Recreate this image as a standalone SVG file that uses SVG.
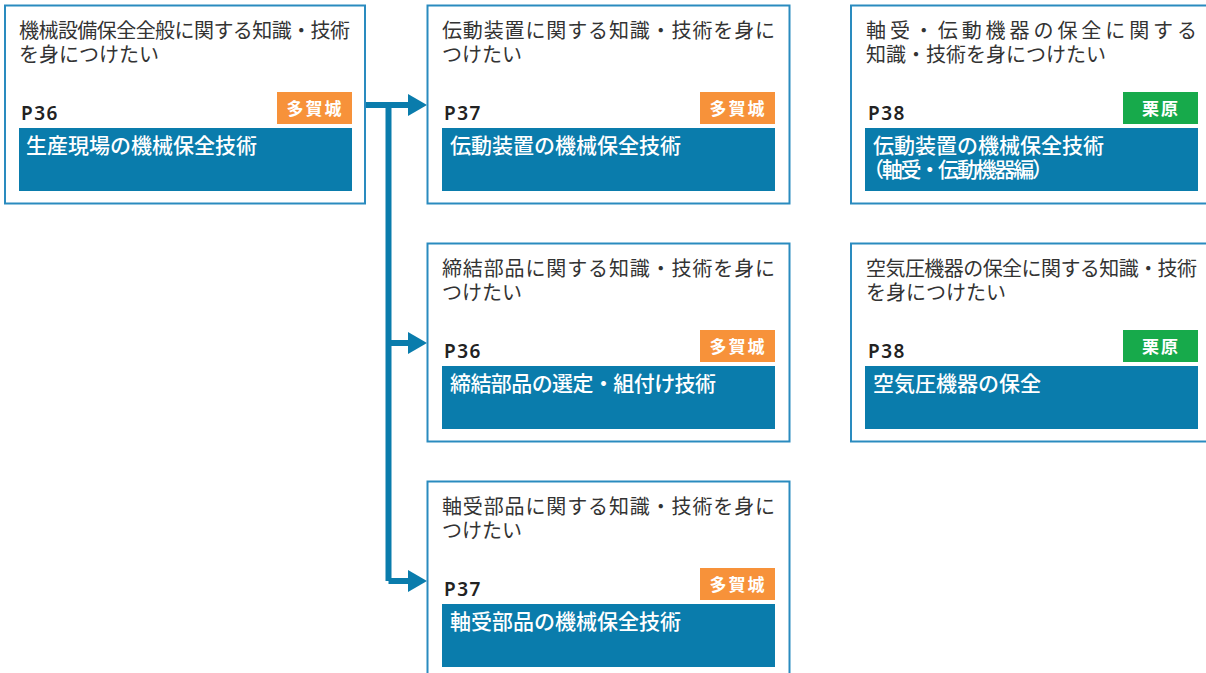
<svg xmlns="http://www.w3.org/2000/svg" width="1206" height="673" viewBox="0 0 1206 673">
<defs>
<style>
.box{fill:#fff;stroke:#2a8bbf;stroke-width:2}
.bar{fill:#0a7cac}
.og{fill:#f7923a}
.gr{fill:#17aa4b}
.t{font-family:"Noto Sans CJK JP","Noto Sans",sans-serif;font-size:20px;fill:#333}
.p{font-family:"Noto Sans","Noto Sans CJK JP",sans-serif;font-size:19px;font-weight:600;fill:#222;letter-spacing:1.5px}
.bd{font-family:"Noto Sans CJK JP",sans-serif;font-size:17px;font-weight:700;fill:#fff;text-anchor:middle;letter-spacing:2px}
.w{font-family:"Noto Sans CJK JP",sans-serif;font-size:21px;font-weight:500;fill:#fff}
.ln{fill:none;stroke:#0a7cac;stroke-width:6}
.ah{fill:#0a7cac}
</style>
</defs>
<g id="connectors">
<path class="ln" d="M366 105 H410 M388.5 102 V581 M388.5 343 H410 M388.5 581 H410"/>
<polygon class="ah" points="408,94 427,105 408,116"/>
<polygon class="ah" points="408,332 427,343 408,354"/>
<polygon class="ah" points="408,570 427,581 408,592"/>
</g>
<g id="node1">
<rect class="box" x="5" y="5.5" width="360" height="198"/>
<text class="t"><tspan x="19" y="38" textLength="331" lengthAdjust="spacing">機械設備保全全般に関する知識・技術</tspan><tspan x="19" y="62">を身につけたい</tspan></text>
<text class="p" x="21" y="120">P36</text>
<rect class="og" x="277" y="92" width="75" height="32"/>
<text class="bd" x="315" y="114.5">多賀城</text>
<rect class="bar" x="19" y="128" width="333" height="63"/>
<text class="w" x="26" y="153">生産現場の機械保全技術</text>
</g>
<g id="node2">
<rect class="box" x="427.5" y="5.5" width="362" height="198"/>
<text class="t"><tspan x="442" y="38" textLength="333" lengthAdjust="spacing">伝動装置に関する知識・技術を身に</tspan><tspan x="442" y="62">つけたい</tspan></text>
<text class="p" x="444" y="120">P37</text>
<rect class="og" x="700" y="92" width="75" height="32"/>
<text class="bd" x="738" y="114.5">多賀城</text>
<rect class="bar" x="442" y="128" width="333" height="63"/>
<text class="w" x="450" y="153">伝動装置の機械保全技術</text>
</g>
<g id="node3">
<rect class="box" x="851" y="5.5" width="362" height="198"/>
<text class="t"><tspan x="866" y="38" textLength="331" lengthAdjust="spacing">軸受・伝動機器の保全に関する</tspan><tspan x="866" y="62">知識・技術を身につけたい</tspan></text>
<text class="p" x="868" y="120">P38</text>
<rect class="gr" x="1123" y="92" width="75" height="32"/>
<text class="bd" x="1161" y="114.5">栗原</text>
<rect class="bar" x="865" y="128" width="333" height="63"/>
<text class="w"><tspan x="873" y="153">伝動装置の機械保全技術</tspan><tspan x="863" y="177" textLength="190" lengthAdjust="spacing">（軸受・伝動機器編）</tspan></text>
</g>
<g id="node4">
<rect class="box" x="427.5" y="243.5" width="362" height="198"/>
<text class="t"><tspan x="442" y="276" textLength="333" lengthAdjust="spacing">締結部品に関する知識・技術を身に</tspan><tspan x="442" y="300">つけたい</tspan></text>
<text class="p" x="444" y="358">P36</text>
<rect class="og" x="700" y="330" width="75" height="32"/>
<text class="bd" x="738" y="352.5">多賀城</text>
<rect class="bar" x="442" y="366" width="333" height="63"/>
<text class="w" x="450" y="391" textLength="266" lengthAdjust="spacing">締結部品の選定・組付け技術</text>
</g>
<g id="node5">
<rect class="box" x="851" y="243.5" width="362" height="198"/>
<text class="t"><tspan x="866" y="276" textLength="331" lengthAdjust="spacing">空気圧機器の保全に関する知識・技術</tspan><tspan x="866" y="300">を身につけたい</tspan></text>
<text class="p" x="868" y="358">P38</text>
<rect class="gr" x="1123" y="330" width="75" height="32"/>
<text class="bd" x="1161" y="352.5">栗原</text>
<rect class="bar" x="865" y="366" width="333" height="63"/>
<text class="w" x="873" y="391">空気圧機器の保全</text>
</g>
<g id="node6">
<rect class="box" x="427.5" y="481.5" width="362" height="198"/>
<text class="t"><tspan x="442" y="514" textLength="333" lengthAdjust="spacing">軸受部品に関する知識・技術を身に</tspan><tspan x="442" y="538">つけたい</tspan></text>
<text class="p" x="444" y="596">P37</text>
<rect class="og" x="700" y="568" width="75" height="32"/>
<text class="bd" x="738" y="590.5">多賀城</text>
<rect class="bar" x="442" y="604" width="333" height="63"/>
<text class="w" x="450" y="629">軸受部品の機械保全技術</text>
</g>
</svg>
